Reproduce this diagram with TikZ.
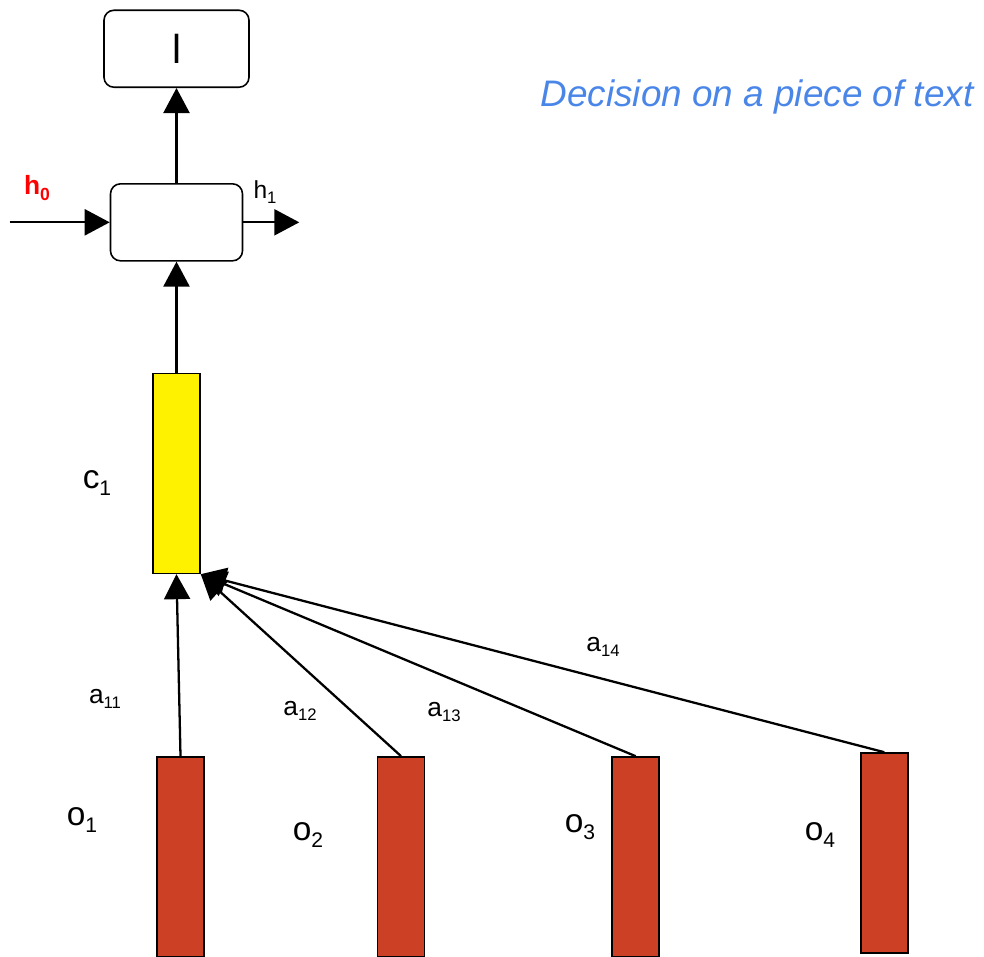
\documentclass[tikz,border=0pt]{standalone}
\usepackage{fontspec}
\setmainfont{Liberation Sans}
\usetikzlibrary{positioning,arrows.meta}

\definecolor{barred}{HTML}{CC4125}
\definecolor{titleblue}{HTML}{4A86E8}

\newcommand{\sublbl}[3]{#1\raisebox{-0.22em}{\fontsize{#3}{#3}\selectfont #2}}

\begin{document}
\begin{tikzpicture}[
    node distance=1.5cm and 1.2cm,
    rnnbox/.style={draw, rectangle, rounded corners=0.2cm, line width=0.9pt, minimum width=2.64cm, minimum height=1.54cm, align=center, fill=white},
    enc/.style={draw, rectangle, line width=0.9pt, minimum width=0.94cm, minimum height=4.0cm, fill=barred, inner sep=0pt},
    ctx/.style={enc, fill=yellow},
    arrow/.style={-{Triangle[length=0.5cm,width=0.52cm]}, line width=1.3pt},
    biglbl/.style={font=\fontsize{19}{22}\selectfont},
    wlbl/.style={font=\fontsize{15}{18}\selectfont}
]
    \useasboundingbox (0,0) rectangle (19.68,19.14);

    % Encoder states
    \node[enc] (o1) at (3.61,2.0) {};
    \node[enc, right=3.44cm of o1] (o2) {};
    \node[enc, right=3.72cm of o2] (o3) {};
    \node[enc, right=4.0cm of o3, yshift=0.08cm] (o4) {};

    % Context vector
    \node[ctx, above=3.64cm of o1, xshift=-0.08cm] (c1) {};

    % Decoder step
    \node[rnnbox, above=2.22cm of c1] (cell) {};
    \node[rnnbox, above=1.90cm of cell, minimum width=2.9cm, font=\fontsize{23}{26}\selectfont] (out) {l};
    \coordinate[left=2.0cm of cell] (hin);
    \coordinate[right=1.12cm of cell] (hout);

    % Labels
    \node[font=\fontsize{15}{18}\selectfont\bfseries, text=red] (h0lbl) at (0.74,15.38) {\sublbl{h}{0}{10}};
    \node[font=\fontsize{14}{17}\selectfont] (h1lbl) at (5.30,15.30) {\sublbl{h}{1}{9.5}};
    \node[biglbl] (c1lbl) at (1.94,9.48) {\sublbl{c}{1}{12}};
    \node[wlbl] (a11) at (2.10,5.16) {\sublbl{a}{11}{9.5}};
    \node[wlbl] (a12) at (6.00,4.92) {\sublbl{a}{12}{9.5}};
    \node[wlbl] (a13) at (8.88,4.90) {\sublbl{a}{13}{9.5}};
    \node[wlbl] (a14) at (12.06,6.20) {\sublbl{a}{14}{9.5}};
    \node[biglbl] (o1lbl) at (1.64,2.74) {\sublbl{o}{1}{12}};
    \node[biglbl] (o2lbl) at (6.16,2.44) {\sublbl{o}{2}{12}};
    \node[biglbl] (o3lbl) at (11.60,2.60) {\sublbl{o}{3}{12}};
    \node[biglbl] (o4lbl) at (16.40,2.44) {\sublbl{o}{4}{12}};
    \node[font=\fontsize{21}{25}\selectfont\itshape, text=titleblue] (title) at (15.14,17.20) {Decision on a piece of text};

    % Connections
    \draw[arrow] (cell.north) -- (out.south);
    \draw[arrow] (c1.north) -- (cell.south);
    \draw[arrow] (hin) -- (cell.west);
    \draw[arrow] (cell.east) -- (hout);
    \draw[arrow] (o1.north) -- (c1.south);
    \foreach \i in {2,3,4}
        \draw[arrow] (o\i.north) -- (c1.south east);

\end{tikzpicture}
\end{document}
